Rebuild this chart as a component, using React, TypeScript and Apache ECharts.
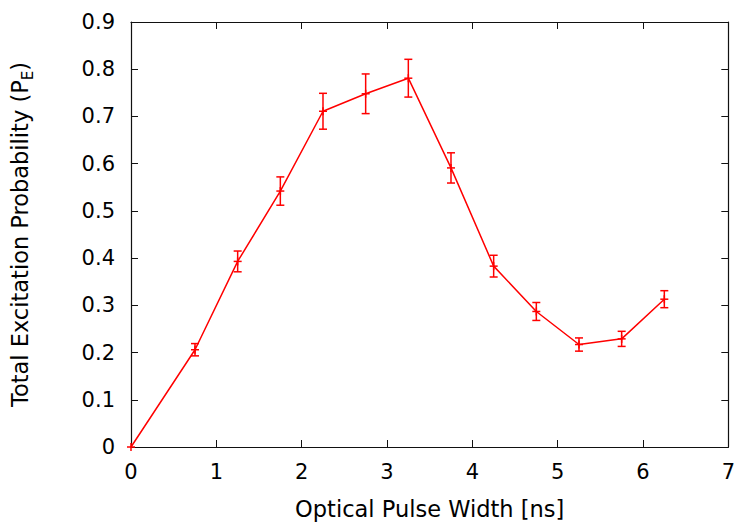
import React, { useEffect, useRef } from "react";
import * as echarts from "echarts";

const xValues = [0, 0.75, 1.25, 1.75, 2.25, 2.75, 3.25, 3.75, 4.25, 4.75, 5.25, 5.75, 6.25];
const yValues = [0, 0.206, 0.393, 0.542, 0.711, 0.748, 0.781, 0.591, 0.383, 0.287, 0.217, 0.229, 0.313];
const yErrors = [0, 0.013, 0.022, 0.03, 0.038, 0.042, 0.04, 0.032, 0.023, 0.019, 0.014, 0.016, 0.018];
const xTitle = "Optical Pulse Width [ns]";

const FONT = "DejaVu Sans";
const RED = "#ff0000";
const AX = "#111111";

export default function App() {
  const ref = useRef<HTMLDivElement>(null);
  useEffect(() => {
    if (!ref.current) return;
    const chart = echarts.init(ref.current, null, { renderer: "svg" });
    const lineData = xValues.map((x, i) => [x, yValues[i]]);
    const errData = xValues.map((x, i) => [x, yValues[i], yErrors[i]]);
    const common = {
      type: "value" as const,
      splitLine: { show: false },
      axisLine: { show: true, onZero: false, lineStyle: { color: AX, width: 1.2 } },
      axisTick: { show: true, inside: true, length: 7, lineStyle: { color: AX, width: 1 } },
    };
    chart.setOption({
      animation: false,
      backgroundColor: "#ffffff",
      grid: { left: 130, right: 7, top: 22, bottom: 78, containLabel: false },
      xAxis: [
        {
          ...common,
          position: "bottom",
          min: 0,
          max: 7,
          interval: 1,
          axisLabel: { fontSize: 21, color: "#000", fontFamily: FONT, margin: 14 },
          name: xTitle,
          nameLocation: "middle",
          nameGap: 50,
          nameTextStyle: { fontSize: 22.5, color: "#000", fontFamily: FONT },
        },
        {
          ...common,
          position: "top",
          min: 0,
          max: 7,
          interval: 1,
          axisLabel: { show: false },
        },
      ],
      yAxis: [
        {
          ...common,
          position: "left",
          min: 0,
          max: 0.9,
          interval: 0.1,
          axisLabel: {
            fontSize: 21,
            color: "#000",
            fontFamily: FONT,
            margin: 16,
            formatter: (v: number) => (Math.abs(v) < 1e-9 ? "0" : v.toFixed(1)),
          },
          name: "{a|Total Excitation Probability (P}{s|E}{a|)}",
          nameLocation: "middle",
          nameGap: 96,
          nameRotate: 90,
          nameTextStyle: {
            color: "#000",
            fontFamily: FONT,
            rich: {
              a: { fontSize: 22.5, color: "#000", fontFamily: FONT },
              s: { fontSize: 15, color: "#000", fontFamily: FONT, padding: [16, 0, 0, 0] },
            },
          },
        },
        {
          ...common,
          position: "right",
          min: 0,
          max: 0.9,
          interval: 0.1,
          axisLabel: { show: false },
        },
      ],
      series: [
        {
          type: "line",
          data: lineData,
          xAxisIndex: 0,
          yAxisIndex: 0,
          symbol: "none",
          lineStyle: { color: RED, width: 1.5 },
          z: 2,
        },
        {
          type: "custom",
          data: errData,
          xAxisIndex: 0,
          yAxisIndex: 0,
          z: 3,
          renderItem: (params: any, api: any) => {
            const x = api.value(0);
            const y = api.value(1);
            const e = api.value(2);
            const p = api.coord([x, y]);
            const t = api.coord([x, y + e]);
            const b = api.coord([x, y - e]);
            const st = { stroke: RED, lineWidth: 1.5 };
            const cap = 4;
            const m = 4;
            const children: any[] = [
              { type: "line", shape: { x1: p[0] - m, y1: p[1], x2: p[0] + m, y2: p[1] }, style: st },
              { type: "line", shape: { x1: p[0], y1: p[1] - m, x2: p[0], y2: p[1] + m }, style: st },
            ];
            if (e > 0) {
              children.push(
                { type: "line", shape: { x1: t[0], y1: t[1], x2: b[0], y2: b[1] }, style: st },
                { type: "line", shape: { x1: t[0] - cap, y1: t[1], x2: t[0] + cap, y2: t[1] }, style: st },
                { type: "line", shape: { x1: b[0] - cap, y1: b[1], x2: b[0] + cap, y2: b[1] }, style: st }
              );
            }
            return { type: "group", children };
          },
        },
      ],
    });
    return () => chart.dispose();
  }, []);
  return <div ref={ref} style={{ width: 738, height: 525, position: "absolute", left: 0, top: 0 }} />;
}
